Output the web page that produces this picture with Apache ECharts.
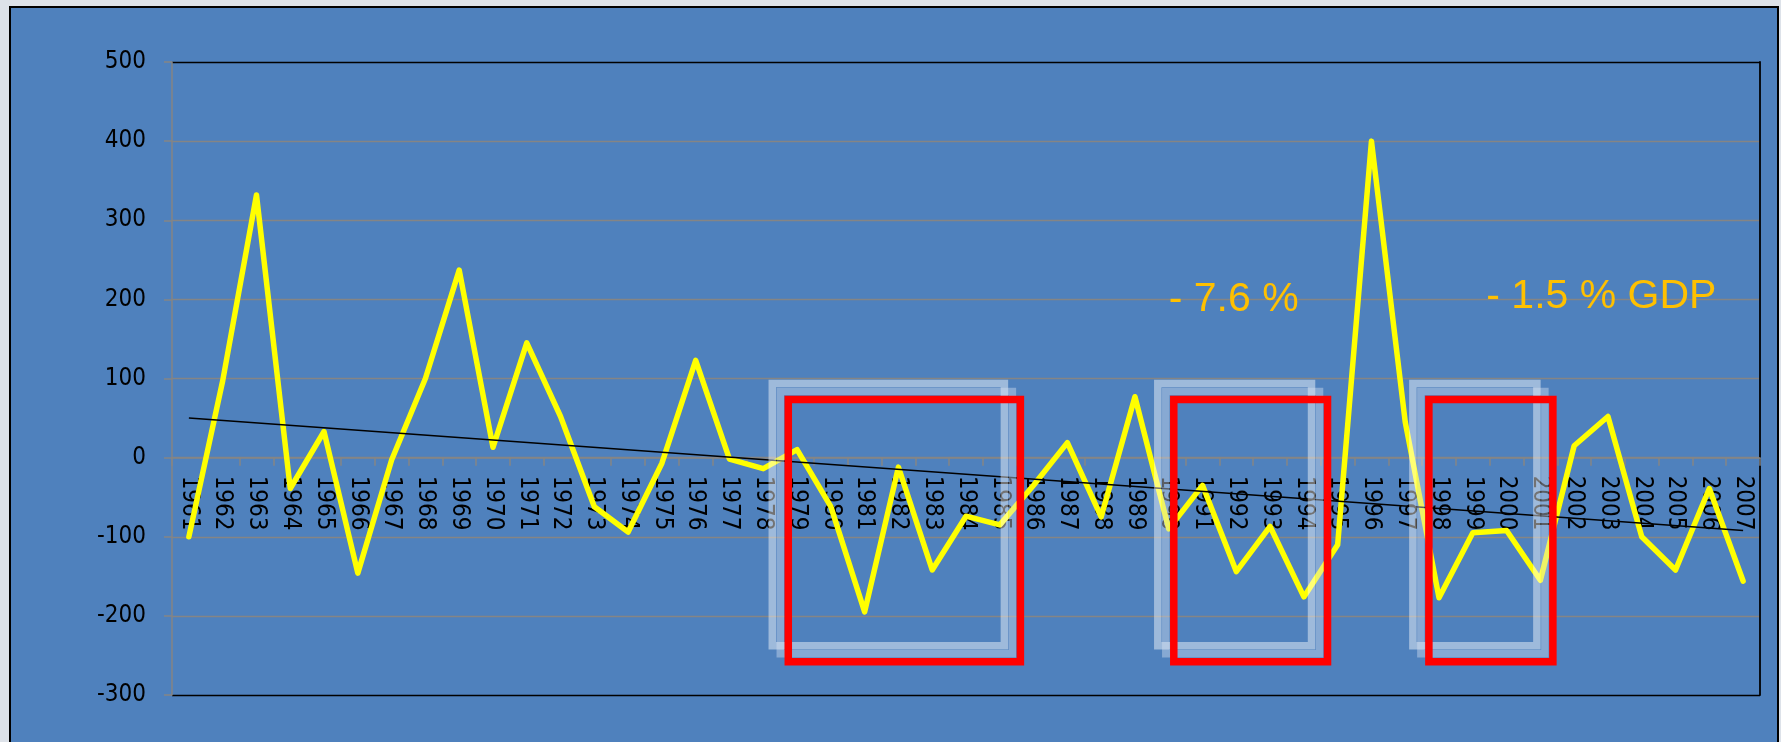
<!DOCTYPE html>
<html>
<head>
<meta charset="utf-8">
<script src="https://cdn.jsdelivr.net/npm/echarts@6/dist/echarts.min.js"></script>
<style>
  html, body { margin: 0; padding: 0; background: #dde2e9; overflow: hidden; }
  #chart {
    position: absolute;
    left: 9px;
    top: 6px;
    width: 1766px;
    height: 740px;
    border: 2px solid #000;
    background: #4f81bd;
  }
</style>
</head>
<body>
<div id="chart"></div>
<script>
const years = [
  '1961', '1962', '1963', '1964', '1965', '1966', '1967', '1968', '1969', '1970',
  '1971', '1972', '1973', '1974', '1975', '1976', '1977', '1978', '1979', '1980',
  '1981', '1982', '1983', '1984', '1985', '1986', '1987', '1988', '1989', '1990',
  '1991', '1992', '1993', '1994', '1995', '1996', '1997', '1998', '1999', '2000',
  '2001', '2002', '2003', '2004', '2005', '2006', '2007'
];

const balance = [
  -100, 97, 332, -39, 33, -146, -3, 100, 237, 13,
  145, 52, -62, -94, -7, 123, -2, -14, 10, -62,
  -195, -12, -142, -74, -85, -35, 19, -75, 77, -90,
  -35, -144, -87, -176, -110, 400, 45, -177, -95, -92,
  -155, 15, 52, -100, -142, -39, -156
];

// trend line end points (year, value)
const trendEnds = [[1961, 50], [2007, -92]];

// highlighted periods: [from year, to year, top value, bottom value]
const boxes = [
  [1978.74, 1985.61, 73.5, -258],
  [1990.15, 1994.70, 73.5, -258],
  [1997.70, 2001.37, 73.5, -258]
];

// notes: [year, value, text]
const notes = [
  [1990.0, 199, '- 7.6 %'],
  [1999.4, 203, '- 1.5 % GDP']
];

const yTicks = [-300, -200, -100, 0, 100, 200, 300, 400, 500];

const FONT = '"DejaVu Sans Condensed", "Liberation Sans", sans-serif';

const chart = echarts.init(document.getElementById('chart'), null, { renderer: 'canvas' });

const splitColors = yTicks.map((v, i) => (i === 0 || i === yTicks.length - 1) ? '#000000' : '#858585');

const renderBox = (params, api) => {
  const p0 = api.coord([api.value(0), api.value(2)]);
  const p1 = api.coord([api.value(1), api.value(3)]);
  const w = p1[0] - p0[0];
  const h = p1[1] - p0[1];
  const frame = (dx, dy, color) => ({
    type: 'rect',
    shape: { x: p0[0] + dx, y: p0[1] + dy, width: w, height: h },
    style: { fill: 'none', stroke: color, lineWidth: 7.5 }
  });
  return {
    type: 'group',
    children: [
      frame(-16, -16, 'rgba(255,255,255,0.45)'),
      frame(-8, -8, 'rgba(215,225,240,0.42)'),
      frame(0, 0, '#ff0000')
    ]
  };
};

const renderNote = (params, api) => {
  const p = api.coord([api.value(0), api.value(1)]);
  return {
    type: 'text',
    x: p[0],
    y: p[1],
    style: {
      text: notes[params.dataIndex][2],
      fill: '#ffc000',
      font: '41px "Liberation Sans", sans-serif',
      align: 'left',
      verticalAlign: 'middle'
    }
  };
};

chart.setOption({
  animation: false,
  backgroundColor: '#4f81bd',
  grid: {
    left: 161, top: 54, width: 1588, height: 633,
    containLabel: false,
    outerBoundsMode: 'none'
  },
  xAxis: [
    {
      type: 'category',
      data: years,
      boundaryGap: true,
      offset: 0,
      axisLine: { onZero: false, lineStyle: { color: '#858585', width: 1.5 } },
      axisTick: { show: true, length: 8, lineStyle: { color: '#858585', width: 1.5 } },
      axisLabel: {
        interval: 0,
        rotate: -90,
        margin: 18,
        color: '#000',
        fontSize: 24,
        fontFamily: FONT
      },
      splitLine: { show: false }
    },
    {
      type: 'value',
      min: 1960.5,
      max: 2007.5,
      show: false
    }
  ],
  yAxis: [
    {
      type: 'value',
      min: -300,
      max: 500,
      interval: 100,
      axisLine: { show: true, onZero: false, lineStyle: { color: '#858585', width: 1.5 } },
      axisTick: { show: true, length: 8, lineStyle: { color: '#858585', width: 1.5 } },
      axisLabel: { margin: 26, color: '#000', fontSize: 24, fontFamily: FONT },
      splitLine: { show: true, lineStyle: { color: splitColors, width: 1.3 } }
    },
    {
      type: 'value',
      position: 'right',
      min: 0,
      max: 1,
      axisLine: { show: true, onZero: false, lineStyle: { color: '#000', width: 1.8 } },
      axisTick: { show: false },
      axisLabel: { show: false },
      splitLine: { show: false }
    }
  ],
  series: [
    {
      name: 'balance',
      type: 'line',
      xAxisIndex: 0,
      yAxisIndex: 0,
      data: balance,
      symbol: 'none',
      lineStyle: { color: '#ffff00', width: 5.5, join: 'round', cap: 'round' },
      z: 3
    },
    {
      name: 'trend',
      type: 'line',
      xAxisIndex: 1,
      yAxisIndex: 0,
      data: trendEnds,
      symbol: 'none',
      lineStyle: { color: '#000', width: 1.5 },
      z: 4
    },
    {
      name: 'periods',
      type: 'custom',
      xAxisIndex: 1,
      yAxisIndex: 0,
      data: boxes,
      renderItem: renderBox,
      clip: false,
      z: 5
    },
    {
      name: 'notes',
      type: 'custom',
      xAxisIndex: 1,
      yAxisIndex: 0,
      data: notes.map(n => [n[0], n[1]]),
      renderItem: renderNote,
      clip: false,
      z: 6
    }
  ]
});

// move the category axis up to the zero line
const zeroY = chart.convertToPixel({ yAxisIndex: 0 }, 0);
const bottomY = chart.convertToPixel({ yAxisIndex: 0 }, yTicks[0]);
chart.setOption({ xAxis: [{ offset: zeroY - bottomY }, {}] });
</script>
</body>
</html>
